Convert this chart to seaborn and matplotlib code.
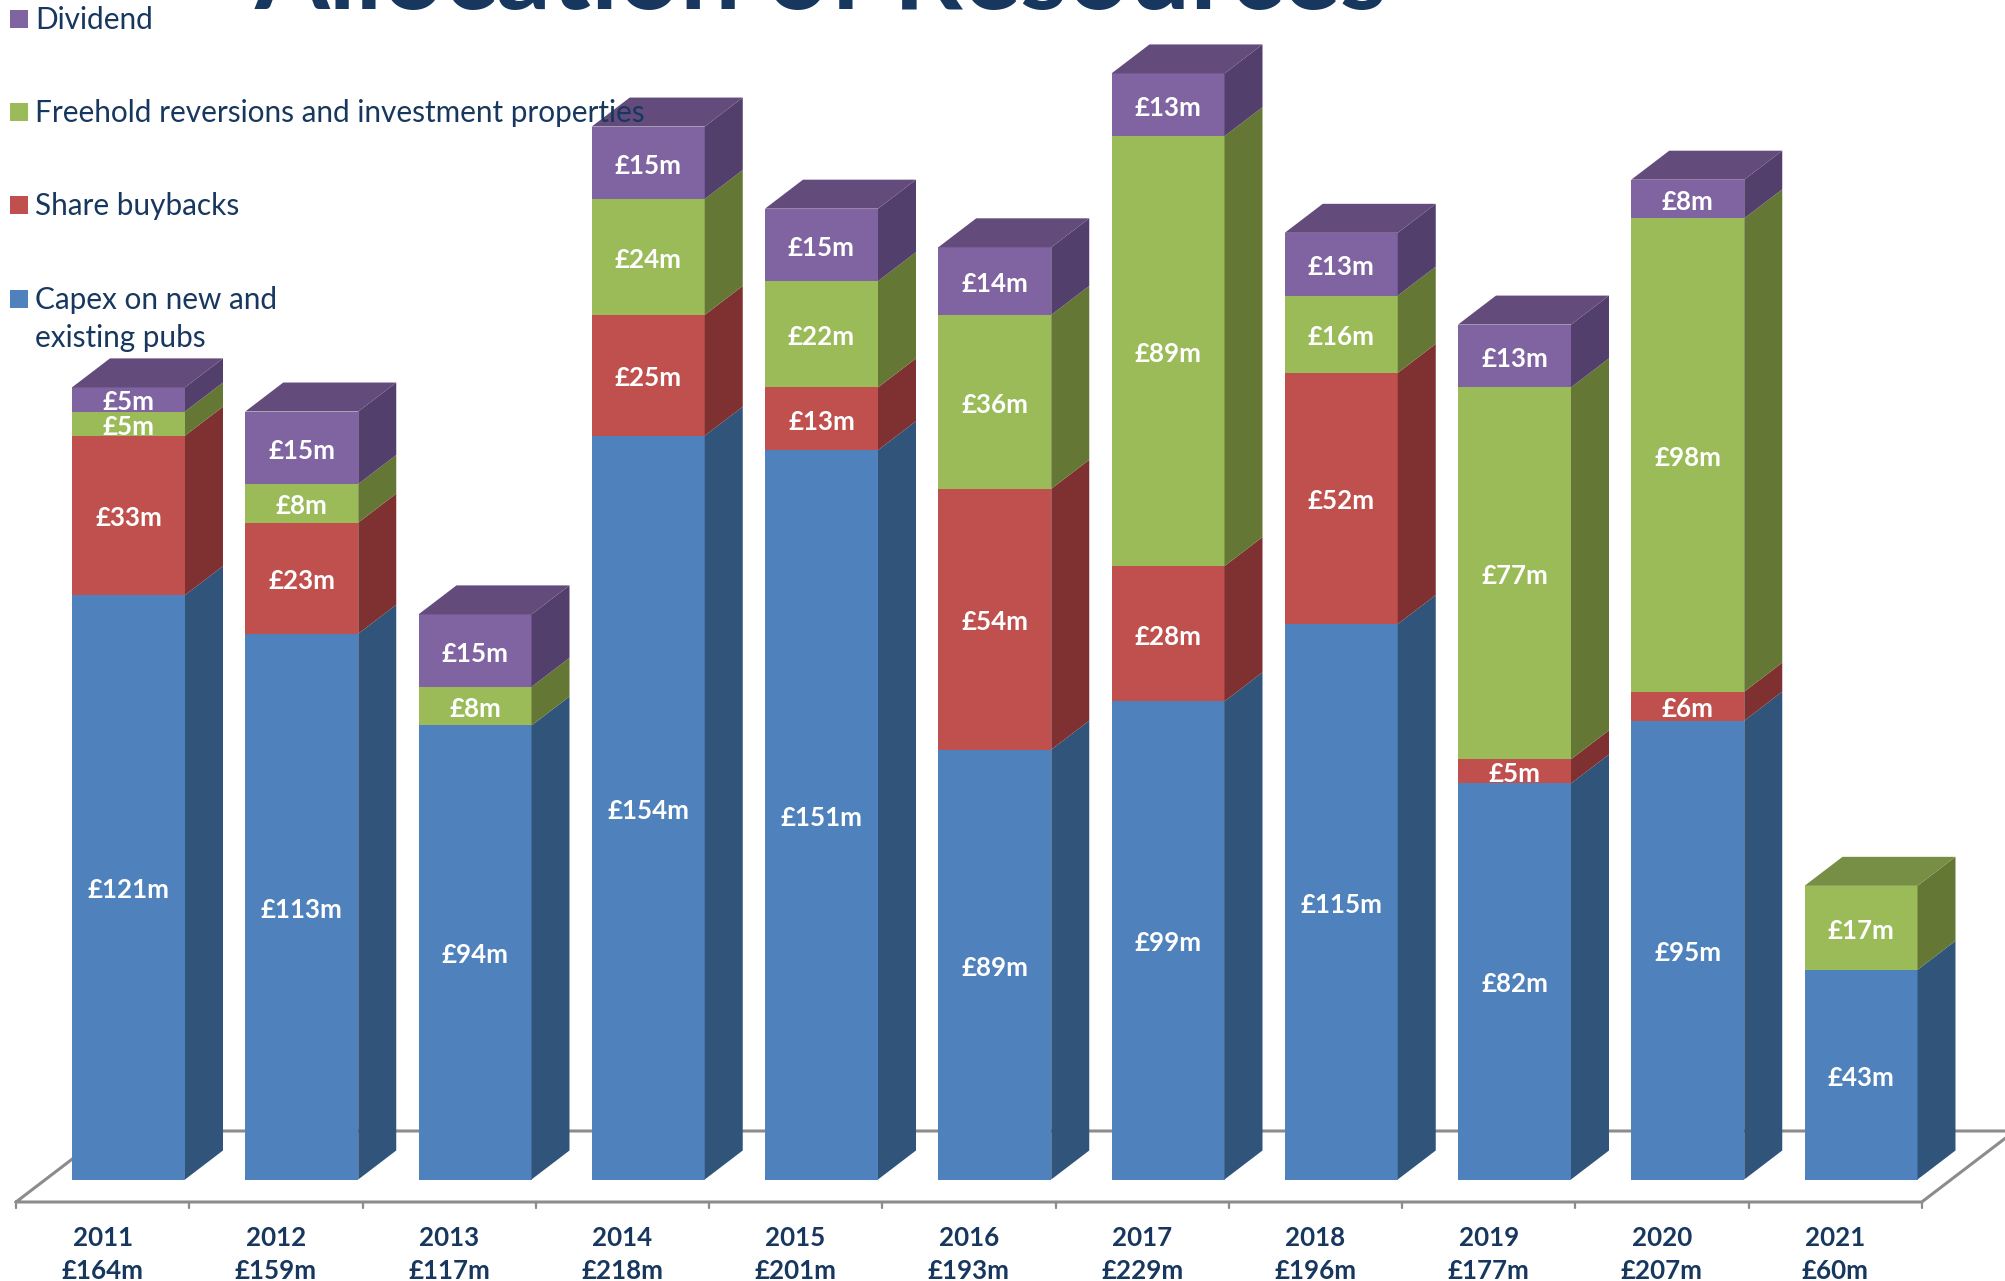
#!/usr/bin/env python3
"""Allocation of Resources: stacked columns drawn with a 3D look."""

import matplotlib
matplotlib.use('Agg')
import matplotlib.pyplot as plt
from matplotlib.patches import Rectangle
import numpy as np
import seaborn as sns

YEARS = ['2011', '2012', '2013', '2014', '2015', '2016', '2017', '2018', '2019', '2020', '2021']
TOTALS = [164, 159, 117, 218, 201, 193, 229, 196, 177, 207, 60]
CAPEX = [121, 113, 94, 154, 151, 89, 99, 115, 82, 95, 43.4]
BUYBACKS = [33, 23, 0, 25, 13, 54, 28, 52, 5, 6, 0]
FREEHOLD = [5, 8, 8, 24, 22, 36, 89, 16, 77, 98, 17.4]
DIVIDEND = [5, 15, 15, 15, 15, 14, 13, 13, 13, 8, 0]

LEGEND_LABELS = ['Dividend', 'Freehold reversions and investment properties',
                 'Share buybacks', 'Capex on new and\nexisting pubs']

NAVY = '#17375E'
# front, side, top face
BLUE = ('#4F81BD', '#31547A', '#3E6695')
RED = ('#C0504D', '#7E3130', '#98403D')
GREEN = ('#9BBB59', '#647735', '#778E45')
PURPLE = ('#8064A2', '#533F6B', '#634B7C')

W, H = 2005, 1281
X0, STEP = 128.5, 173.25     # px centre of first column, px between columns
Y0, PER_M = 1179.5, 4.83     # px of the baseline, px per GBP 1m
DX, DY = 38 / STEP, 29 / PER_M   # depth of the columns in data units
BAR_W = 113 / STEP

sns.set_theme(style='white')
plt.rcParams['font.family'] = ['Lato', 'DejaVu Sans']

fig = plt.figure(figsize=(W / 100, H / 100), dpi=100)
ax = fig.add_axes([0, 0, 1, 1])

# floor, drawn first so the columns cover it
front = -(1202 - Y0) / PER_M
back = (Y0 - 1131) / PER_M
left = (16 - X0) / STEP
right = left + 11
fdx = (back - front) * PER_M * 1.31 / STEP
ax.plot([left, left + fdx, right + fdx, right, left], [front, back, back, front, front],
        color='#8C8C8C', lw=2.2, zorder=0.5, solid_joinstyle='miter')
for k in range(12):
    ax.plot([left + k, left + k], [front, front - 6 / PER_M], color='#8C8C8C', lw=1.6, zorder=0.5)

bottom = np.zeros(len(YEARS))
for vals, cols in [(CAPEX, BLUE), (BUYBACKS, RED), (FREEHOLD, GREEN), (DIVIDEND, PURPLE)]:
    vals = np.array(vals, dtype=float)
    sns.barplot(x=YEARS, y=vals, bottom=bottom, color=cols[0], saturation=1,
                width=BAR_W, linewidth=0, ax=ax, zorder=2)
    top = bottom + vals
    for i, v in enumerate(vals):
        if v == 0:
            continue
        xr = i + BAR_W / 2
        ax.fill([xr, xr + DX, xr + DX, xr],
                [bottom[i], bottom[i] + DY, top[i] + DY, top[i]],
                color=cols[1], lw=0, zorder=2)
        # top face only on the last segment of the column
        if top[i] >= TOTALS[i]:
            ax.fill([xr - BAR_W, xr - BAR_W + DX, xr + DX, xr],
                    [top[i], top[i] + DY, top[i] + DY, top[i]],
                    color=cols[2], lw=0, zorder=2)
        ax.text(i, bottom[i] + v / 2 - 3 / PER_M, f'£{round(v)}m', color='white', fontsize=18.6,
                fontweight='bold', ha='center', va='center', zorder=3)
    bottom = top

# category labels sit under the floor, offset from the columns
for i, (yr, tot) in enumerate(zip(YEARS, TOTALS)):
    xc = left + i + 0.5
    ax.text(xc, (Y0 - 1238) / PER_M, yr, color=NAVY, fontsize=18.6, fontweight='bold',
            ha='center', va='center')
    ax.text(xc, (Y0 - 1271) / PER_M, f'£{tot}m', color=NAVY, fontsize=18.6, fontweight='bold',
            ha='center', va='center')

ax.set_xlim((0 - X0) / STEP, (W - X0) / STEP)
ax.set_ylim((Y0 - H) / PER_M, Y0 / PER_M)
ax.set_axis_off()

# legend and title placed in figure pixels
for label, c, yc in zip(LEGEND_LABELS, [PURPLE, GREEN, RED, BLUE], [19, 112, 205, 299]):
    fig.add_artist(Rectangle((10 / W, 1 - (yc + 9) / H), 18 / W, 18 / H,
                             transform=fig.transFigure, color=c[0], lw=0))
    fig.text(35 / W, 1 - (yc - 13) / H, label, color=NAVY, fontsize=21.4, ha='left', va='top',
             linespacing=1.42, zorder=5)

fig.text(821 / W, 1 - 9 / H, 'Allocation of Resources', color=NAVY, fontsize=77.5,
         fontweight='bold', ha='center', va='baseline')

fig.savefig('out.png', dpi=100)
plt.close(fig)
